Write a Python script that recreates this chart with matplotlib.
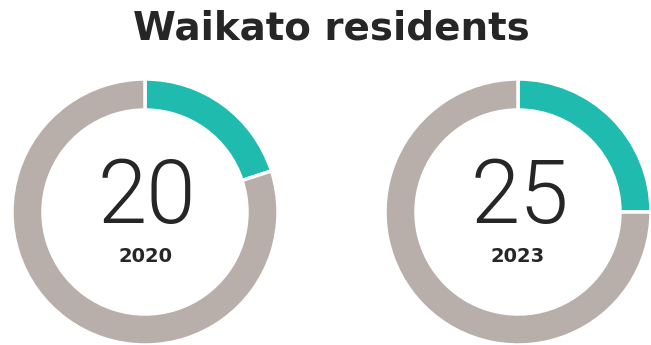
import matplotlib.pyplot as plt

# Share of Waikato residents, by survey year
years = ['2020', '2023']
shares = [20, 25]

teal = '#20bbaf'
grey = '#b8afaa'
ink = '#262626'

W, H = 651, 345
fig = plt.figure(figsize=(W / 100, H / 100), dpi=100)
ax = fig.add_axes([0, 0, 1, 1])

centres = [(145, 133), (518, 133)]
radius = 133
ring = 31

for (cx, cy), year, share in zip(centres, years, shares):
    ax.pie([share, 100 - share], colors=[teal, grey], startangle=90,
           counterclock=False, center=(cx, cy), radius=radius,
           wedgeprops=dict(width=ring, edgecolor='white', linewidth=2.5))
    ax.text(cx + 2, cy - 11, str(share), ha='center', va='baseline',
            fontsize=64, fontfamily='Roboto', fontweight=300, color=ink)
    ax.text(cx, cy - 50, year, ha='center', va='baseline',
            fontsize=14, fontfamily='DejaVu Sans', fontweight='bold', color=ink)

ax.text(331, H - 40, 'Waikato residents', ha='center', va='baseline',
        fontsize=28, fontfamily='DejaVu Sans', fontweight='bold', color=ink)

ax.set_xlim(0, W)
ax.set_ylim(0, H)
ax.set_aspect('equal')
ax.axis('off')

plt.savefig('out.png', dpi=100)
